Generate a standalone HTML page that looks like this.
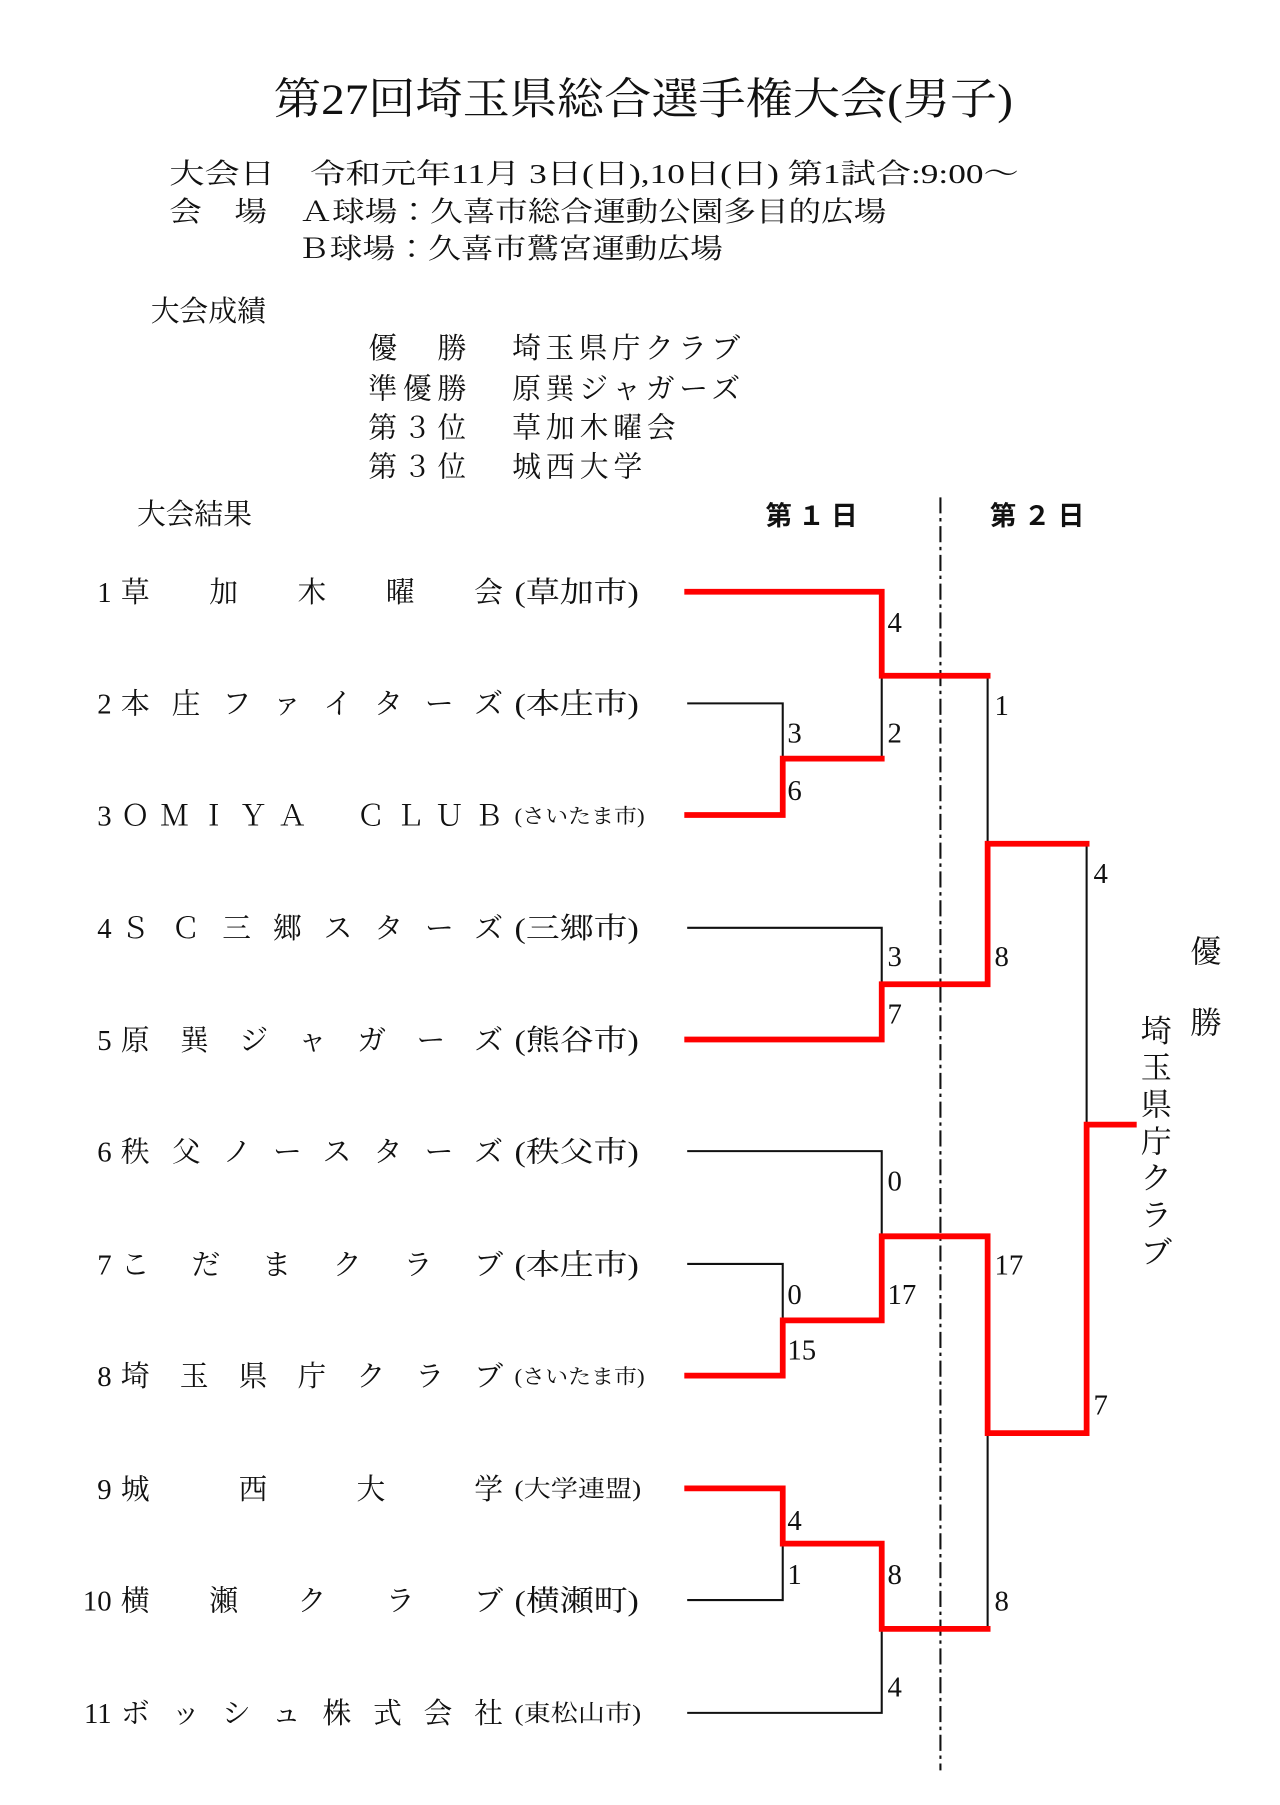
<!DOCTYPE html>
<html><head><meta charset="utf-8"><style>
html,body{margin:0;padding:0;background:#fff;}
svg{display:block}
.m{font-family:"Liberation Serif","Noto Serif CJK JP","Noto Serif CJK SC",serif;fill:#111;}
.g{font-family:"Liberation Sans","Noto Sans CJK JP",sans-serif;font-weight:bold;fill:#111;}
.r{fill:none;stroke:#f00;stroke-width:5;stroke-linejoin:miter;stroke-linecap:square}
.b{fill:none;stroke:#111;stroke-width:1.8}
</style></head><body>
<svg width="1280" height="1805" viewBox="0 0 1112 1568" xmlns="http://www.w3.org/2000/svg">
<rect width="1112" height="1568" fill="#fff"/>
<text class="m" x="238" y="99" font-size="38" textLength="642" lengthAdjust="spacingAndGlyphs">第27回埼玉県総合選手権大会(男子)</text>
<text class="m" x="147" y="159" font-size="24" textLength="738" lengthAdjust="spacingAndGlyphs">大会日　令和元年11月 3日(日),10日(日) 第1試合:9:00～</text>
<text class="m" x="147" y="192" font-size="24" textLength="623" lengthAdjust="spacingAndGlyphs">会　場　Ａ球場：久喜市総合運動公園多目的広場</text>
<text class="m" x="258" y="224" font-size="24" textLength="370" lengthAdjust="spacingAndGlyphs">Ｂ球場：久喜市鷲宮運動広場</text>
<text class="m" x="131" y="279" font-size="25">大会成績</text>
<g class="m" font-size="25">
<text x="320" y="311" textLength="85" lengthAdjust="spacing">優　勝</text><text x="445" y="311" textLength="198" lengthAdjust="spacing">埼玉県庁クラブ</text>
<text x="320" y="346" textLength="85" lengthAdjust="spacing">準優勝</text><text x="445" y="346" textLength="198" lengthAdjust="spacing">原巽ジャガーズ</text>
<text x="320" y="380" textLength="85" lengthAdjust="spacing">第３位</text><text x="445" y="380" textLength="142" lengthAdjust="spacing">草加木曜会</text>
<text x="320" y="414" textLength="85" lengthAdjust="spacing">第３位</text><text x="445" y="414" textLength="113" lengthAdjust="spacing">城西大学</text>
</g>
<text class="m" x="119" y="455" font-size="25">大会結果</text>
<text class="g" x="665" y="456" font-size="23" textLength="80" lengthAdjust="spacing">第１日</text>
<text class="g" x="860" y="456" font-size="23" textLength="82" lengthAdjust="spacing">第２日</text>
<line x1="817" y1="432" x2="817" y2="1538" stroke="#111" stroke-width="1.8" stroke-dasharray="14,4,3,4"/>

<g class="m" font-size="25">
<text x="97" y="523" text-anchor="end">1</text><text x="105" y="523" textLength="332" lengthAdjust="spacing">草加木曜会</text><text x="447" y="523" textLength="108" lengthAdjust="spacingAndGlyphs">(草加市)</text>
<text x="97" y="620" text-anchor="end">2</text><text x="105" y="620" textLength="332" lengthAdjust="spacing">本庄ファイターズ</text><text x="447" y="620" textLength="108" lengthAdjust="spacingAndGlyphs">(本庄市)</text>
<text x="97" y="717" text-anchor="end">3</text><text x="105" y="717" textLength="332" lengthAdjust="spacing">ＯＭＩＹＡ　ＣＬＵＢ</text><text x="447" y="715" font-size="18" textLength="113" lengthAdjust="spacingAndGlyphs">(さいたま市)</text>
<text x="97" y="815" text-anchor="end">4</text><text x="105" y="815" textLength="332" lengthAdjust="spacing">ＳＣ三郷スターズ</text><text x="447" y="815" textLength="108" lengthAdjust="spacingAndGlyphs">(三郷市)</text>
<text x="97" y="912" text-anchor="end">5</text><text x="105" y="912" textLength="332" lengthAdjust="spacing">原巽ジャガーズ</text><text x="447" y="912" textLength="108" lengthAdjust="spacingAndGlyphs">(熊谷市)</text>
<text x="97" y="1009" text-anchor="end">6</text><text x="105" y="1009" textLength="332" lengthAdjust="spacing">秩父ノースターズ</text><text x="447" y="1009" textLength="108" lengthAdjust="spacingAndGlyphs">(秩父市)</text>
<text x="97" y="1107" text-anchor="end">7</text><text x="105" y="1107" textLength="332" lengthAdjust="spacing">こだまクラブ</text><text x="447" y="1107" textLength="108" lengthAdjust="spacingAndGlyphs">(本庄市)</text>
<text x="97" y="1204" text-anchor="end">8</text><text x="105" y="1204" textLength="332" lengthAdjust="spacing">埼玉県庁クラブ</text><text x="447" y="1202" font-size="18" textLength="113" lengthAdjust="spacingAndGlyphs">(さいたま市)</text>
<text x="97" y="1302" text-anchor="end">9</text><text x="105" y="1302" textLength="332" lengthAdjust="spacing">城西大学</text><text x="447" y="1300" font-size="20" textLength="110" lengthAdjust="spacingAndGlyphs">(大学連盟)</text>
<text x="97" y="1399" text-anchor="end">10</text><text x="105" y="1399" textLength="332" lengthAdjust="spacing">横瀬クラブ</text><text x="447" y="1399" textLength="108" lengthAdjust="spacingAndGlyphs">(横瀬町)</text>
<text x="97" y="1497" text-anchor="end">11</text><text x="105" y="1497" textLength="332" lengthAdjust="spacing">ボッシュ株式会社</text><text x="447" y="1495" font-size="20" textLength="110" lengthAdjust="spacingAndGlyphs">(東松山市)</text>
</g>

<path class="b" d="M597,611H680V659 M766,587V659 M597,806H766V855 M858,587V733 M597,1098H680V1147 M597,1000H766V1074 M597,1390H680V1341 M597,1488H766V1415 M858,1245V1415 M944,733V977"/>
<path class="r" d="M597,514H766V587H858"/>
<path class="r" d="M597,708H680V659H766"/>
<path class="r" d="M597,903H766V855H858V733H944"/>
<path class="r" d="M597,1195H680V1147H766V1074H858V1245H944V977H985"/>
<path class="r" d="M597,1293H680V1341H766V1415H858"/>

<g class="m" font-size="25">
<text x="771" y="549">4</text><text x="771" y="645">2</text>
<text x="684" y="645">3</text><text x="684" y="695">6</text>
<text x="864" y="621">1</text><text x="864" y="839">8</text>
<text x="771" y="839">3</text><text x="771" y="889">7</text>
<text x="950" y="767">4</text><text x="950" y="1229">7</text>
<text x="771" y="1034">0</text><text x="771" y="1133">17</text>
<text x="684" y="1133">0</text><text x="684" y="1181">15</text>
<text x="864" y="1107">17</text><text x="864" y="1399">8</text>
<text x="684" y="1329">4</text><text x="684" y="1376">1</text>
<text x="771" y="1376">8</text><text x="771" y="1474">4</text>
</g>
<g class="m" font-size="27">
<text x="1034" y="836">優</text><text x="1034" y="898">勝</text>
<text x="991" y="905">埼</text><text x="991" y="937">玉</text><text x="991" y="969">県</text><text x="991" y="1001">庁</text><text x="991" y="1033">ク</text><text x="991" y="1065">ラ</text><text x="991" y="1097">ブ</text>
</g>
</svg>
</body></html>
